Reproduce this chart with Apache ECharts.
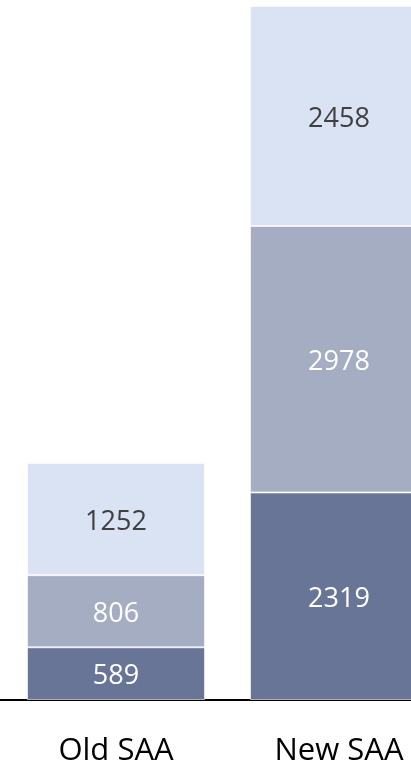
<!DOCTYPE html>
<html><head><meta charset="utf-8">
<script src="https://cdn.jsdelivr.net/npm/echarts@6/dist/echarts.min.js"></script>
<style>html,body{margin:0;padding:0;background:#fff}#c{width:411px;height:766px}</style>
</head><body><div id="c"></div>
<script>
const categories = ['Old SAA', 'New SAA'];
const bottomValues = [589, 2319];
const middleValues = [806, 2978];
const topValues = [1252, 2458];
const seriesColors = ['#697597', '#a5adc3', '#dae3f3'];
const labelColors = ['#ffffff', '#ffffff', '#404040'];

const chart = echarts.init(document.getElementById('c'));
const FONT = '"Open Sans", sans-serif';
const total = bottomValues.map((v, i) => v + middleValues[i] + topValues[i]);
const yMax = Math.max(...total);

function mk(name, data, idx) {
  return {
    name, type: 'bar', stack: 'a', data, barWidth: 178,
    xAxisIndex: 0, yAxisIndex: 0,
    itemStyle: { color: seriesColors[idx], borderColor: 'rgba(255,255,255,0.6)', borderWidth: 1 },
    label: { show: true, position: 'inside', offset: [0, 3], color: labelColors[idx], fontFamily: FONT, fontSize: 27 },
    silent: true
  };
}

chart.setOption({
  animation: false,
  grid: [
    { left: 4.5, top: 6, right: -39.5, bottom: 66, containLabel: false, outerBoundsMode: 'none' },
    { left: 0, right: 0, top: 6, bottom: 66, containLabel: false, outerBoundsMode: 'none' }
  ],
  xAxis: [
    { type: 'category', gridIndex: 0, data: categories,
      axisLine: { show: false }, axisTick: { show: false },
      axisLabel: { fontFamily: FONT, fontSize: 31, color: '#000', margin: 36 } },
    { type: 'category', gridIndex: 1, data: [''],
      axisLine: { show: true, lineStyle: { color: '#000', width: 2 } },
      axisTick: { show: false }, axisLabel: { show: false } }
  ],
  yAxis: [
    { type: 'value', gridIndex: 0, min: 0, max: yMax, show: false, splitLine: { show: false } },
    { type: 'value', gridIndex: 1, min: 0, max: 1, show: false, splitLine: { show: false } }
  ],
  series: [
    mk('Bottom', bottomValues, 0),
    mk('Middle', middleValues, 1),
    mk('Top', topValues, 2)
  ]
});
</script></body></html>
